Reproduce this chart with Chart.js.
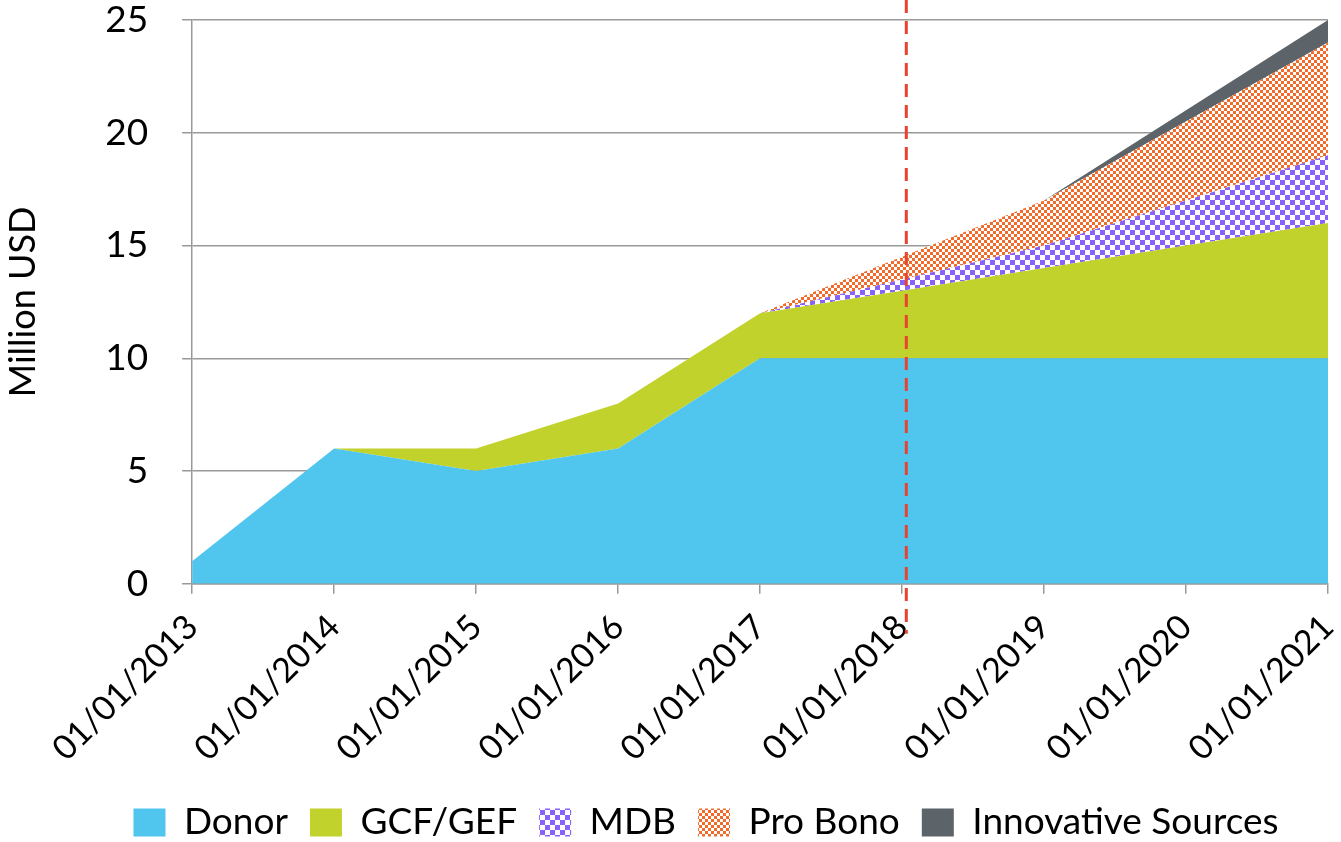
<!DOCTYPE html>
<html>
<head>
<meta charset="utf-8">
<script src="https://cdn.jsdelivr.net/npm/chart.js@4"></script>
<style>
  html, body { margin: 0; padding: 0; background: #fff; }
  #wrap { width: 1341px; height: 842px; }
</style>
</head>
<body>
<div id="wrap"><canvas id="chart"></canvas></div>
<script>
const labels = ['01/01/2013','01/01/2014','01/01/2015','01/01/2016','01/01/2017','01/01/2018','01/01/2019','01/01/2020','01/01/2021'];
const donor      = [1, 6, 5, 6, 10, 10, 10, 10, 10];
const gcfGef     = [0, 0, 1, 2, 2, 3, 4, 5, 6];
const mdb        = [null, null, null, null, 0, 0.5, 1, 2, 3];
const proBono    = [null, null, null, null, 0, 1, 2, 3.5, 5];
const innovative = [null, null, null, null, null, null, 0, 0.5, 1];
const markerAt = 5.03; // "today" line, just after 01/01/2018

function checker(color, size){
  const c = document.createElement('canvas');
  c.width = size * 2; c.height = size * 2;
  const g = c.getContext('2d');
  g.fillStyle = '#fff';
  g.fillRect(0, 0, size * 2, size * 2);
  g.fillStyle = color;
  g.fillRect(0, 0, size, size);
  g.fillRect(size, size, size, size);
  return g.createPattern(c, 'repeat');
}

const FONT = 'Lato, "Open Sans", sans-serif';

const markerLine = {
  id: 'markerLine',
  afterDatasetsDraw(chart){
    const x = chart.scales.x.getPixelForValue(markerAt);
    const ctx = chart.ctx;
    ctx.save();
    ctx.strokeStyle = '#e8432e';
    ctx.lineWidth = 3;
    ctx.setLineDash([13, 8]);
    ctx.beginPath();
    ctx.moveTo(x, 0);
    ctx.lineTo(x, chart.chartArea.bottom + 50);
    ctx.stroke();
    ctx.restore();
  }
};

// nudge the legend to the right, like the original
const legendShift = {
  id: 'legendShift',
  afterLayout(chart){
    chart.legend.left += 42;
    chart.legend.right += 42;
  }
};

function series(label, data, bg, fill){
  return { label, data, backgroundColor: bg, fill, borderWidth: 0, pointRadius: 0, tension: 0, spanGaps: false };
}

new Chart(document.getElementById('chart'), {
  type: 'line',
  data: {
    labels,
    datasets: [
      series('Donor', donor, '#50c6ee', 'origin'),
      series('GCF/GEF', gcfGef, '#c2d22c', '-1'),
      series('MDB', mdb, checker('#8862fa', 5), '-1'),
      series('Pro Bono', proBono, checker('#f26b2b', 3), '-1'),
      series('Innovative Sources', innovative, '#5d6469', '-1')
    ]
  },
  options: {
    responsive: true,
    maintainAspectRatio: false,
    animation: false,
    layout: { padding: { top: 20, right: 13, left: 0, bottom: -9 } },
    plugins: {
      tooltip: { enabled: false },
      legend: {
        position: 'bottom',
        labels: { font: { family: FONT, size: 37 }, color: '#000', boxWidth: 32, boxHeight: 28, padding: 22 }
      }
    },
    scales: {
      x: {
        afterFit(s){ s.paddingRight = 0; },
        grid: { drawOnChartArea: false, drawTicks: true, tickLength: 10, color: '#999', lineWidth: 1.5 },
        border: { color: '#999', width: 1.5 },
        ticks: { font: { family: FONT, size: 34 }, color: '#000', minRotation: 45, maxRotation: 45, padding: 13 }
      },
      y: {
        afterFit(s){ s.paddingTop = 0; },
        stacked: true,
        min: 0, max: 25,
        grid: { color: '#999', lineWidth: 1.5, tickLength: 10 },
        border: { color: '#999', width: 1.5 },
        ticks: { stepSize: 5, font: { family: FONT, size: 37 }, color: '#000', padding: 34 },
        title: { display: true, text: 'Million USD', font: { family: FONT, size: 36 }, color: '#000', padding: { top: 2, bottom: 26 } }
      }
    }
  },
  plugins: [markerLine, legendShift]
});
</script>
</body>
</html>
